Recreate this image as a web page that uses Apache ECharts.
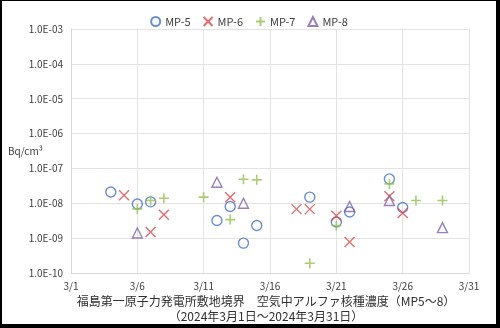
<!DOCTYPE html>
<html><head><meta charset="utf-8">
<script src="https://cdn.jsdelivr.net/npm/echarts@6/dist/echarts.min.js"></script>
<style>
html,body{margin:0;padding:0;background:#000;width:500px;height:328px;overflow:hidden}
#c{position:absolute;left:2px;top:1px;width:494px;height:323px;background:#fff}
</style></head><body><div id="c"></div>
<script>
const xTickDays = [1, 6, 11, 16, 21, 26, 31];
const mp5Days = [4, 6, 7, 12, 13, 14, 15, 19, 21, 22, 25, 26];
const mp5Vals = [2.1e-8, 9.5e-9, 1.1e-8, 3.2e-9, 8.1e-9, 7.2e-10, 2.3e-9, 1.5e-8, 2.9e-9, 5.6e-9, 5.0e-8, 7.6e-9];
const mp6Days = [5, 7, 8, 13, 18, 19, 21, 22, 25, 26];
const mp6Vals = [1.7e-8, 1.5e-9, 4.7e-9, 1.5e-8, 6.8e-9, 6.8e-9, 4.4e-9, 7.7e-10, 1.6e-8, 5.3e-9];
const mp7Days = [6, 7, 8, 11, 13, 14, 15, 19, 21, 25, 27, 29];
const mp7Vals = [6.9e-9, 1.2e-8, 1.4e-8, 1.5e-8, 3.4e-9, 4.9e-8, 4.7e-8, 1.9e-10, 2.3e-9, 3.6e-8, 1.2e-8, 1.2e-8];
const mp8Days = [6, 12, 14, 22, 25, 29];
const mp8Vals = [1.4e-9, 4.0e-8, 1.0e-8, 8.1e-9, 1.2e-8, 2.0e-9];

const FONT = '"Noto Sans CJK JP", "Noto Sans", sans-serif';
const pts = (d, v) => d.map((x, i) => [x - 1, v[i]]);
function sci(v) {
  const e = Math.round(Math.log10(v));
  const a = Math.abs(e);
  return '1.0E' + (e < 0 ? '-' : '+') + (a < 10 ? '0' + a : a);
}
const mk = (name, d, v, symbol, color, w) => ({
  name, type: 'scatter', data: pts(d, v), symbol, symbolSize: 10,
  itemStyle: { color: 'rgba(0,0,0,0)', borderColor: color, borderWidth: w }
});
const chart = echarts.init(document.getElementById('c'), null, { renderer: 'canvas' });
chart.setOption({
  animation: false,
  textStyle: { fontFamily: FONT },
  grid: { left: 69, right: 27, top: 28, bottom: 51 },
  legend: {
    top: 10, left: 'center', itemWidth: 9, itemHeight: 9, itemGap: 12,
    textStyle: { fontSize: 11, color: '#404040', fontFamily: FONT }
  },
  title: {
    text: '福島第一原子力発電所敷地境界　空気中アルファ核種濃度（MP5～8）',
    subtext: '（2024年3月1日～2024年3月31日）',
    left: 264, textAlign: 'center', top: 293, itemGap: 1, padding: 0,
    textStyle: { fontSize: 12, fontWeight: 'normal', color: '#303030', lineHeight: 14, fontFamily: FONT },
    subtextStyle: { fontSize: 12, color: '#303030', lineHeight: 14, fontFamily: FONT }
  },
  graphic: [{
    type: 'text', left: 6, top: 145,
    style: { text: 'Bq/cm³', fontSize: 10, fill: '#404040', fontFamily: FONT }
  }],
  xAxis: {
    type: 'value', min: 0, max: 30, interval: 5,
    axisLine: { show: true, lineStyle: { color: '#d9d9d9' } },
    axisTick: { show: false },
    splitLine: { show: true, lineStyle: { color: '#e3e3e3' } },
    axisLabel: { fontSize: 10, color: '#404040', margin: 8, formatter: v => '3/' + xTickDays[v / 5] }
  },
  yAxis: {
    type: 'log', logBase: 10, min: 1e-10, max: 1e-3,
    axisLine: { show: true, lineStyle: { color: '#d9d9d9' } },
    axisTick: { show: false },
    splitLine: { show: true, lineStyle: { color: '#e3e3e3' } },
    axisLabel: { fontSize: 10, color: '#404040', margin: 8, formatter: sci }
  },
  series: [
    mk('MP-5', mp5Days, mp5Vals, 'circle', '#4472C4', 1.4),
    mk('MP-6', mp6Days, mp6Vals, 'path://M0,0L10,10M10,0L0,10', '#E04848', 1.4),
    mk('MP-7', mp7Days, mp7Vals, 'path://M5,0L5,10M0,5L10,5', '#92C050', 1.6),
    mk('MP-8', mp8Days, mp8Vals, 'triangle', '#7F60A8', 1.4)
  ]
});
</script></body></html>
